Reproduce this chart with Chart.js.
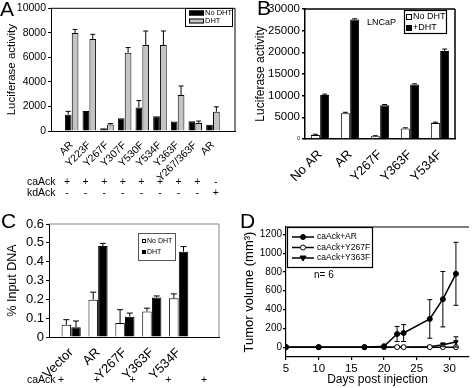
<!DOCTYPE html>
<html>
<head>
<meta charset="utf-8">
<script src="https://cdn.jsdelivr.net/npm/chart.js@4.4.0/dist/chart.umd.min.js"></script>
<style>
  html, body { margin: 0; padding: 0; background: #fff; }
  #wrap { position: relative; width: 474px; height: 388px; overflow: hidden; }
  canvas { position: absolute; }
</style>
</head>
<body>
<div id="wrap">
  <canvas id="cA" width="237" height="200" style="left:0;top:0"></canvas>
  <canvas id="cB" width="237" height="200" style="left:237px;top:0"></canvas>
  <canvas id="cC" width="237" height="188" style="left:0;top:200px"></canvas>
  <canvas id="cD" width="237" height="188" style="left:237px;top:200px"></canvas>
</div>
<script>
// ─── data ───────────────────────────────────────────────────────────────────
// A: luciferase activity with caAck / kdAck
const catA = ['AR','Y223F','Y267F','Y307F','Y530F','Y534F','Y363F','Y267/363F','AR'];
const noDhtA = [1330,1620,230,1040,1920,1200,770,800,500];
const noDhtErrA = [270,0,0,0,560,0,0,0,0];
const dhtA = [7980,7500,520,6380,7000,7000,2930,660,1570];
const dhtErrA = [300,380,90,420,1150,1150,740,150,400];
const caAckA = ['+','+','+','+','+','+','+','+','-'];
const kdAckA = ['-','-','-','-','-','-','-','-','+'];
const yTicksA = [0,2000,4000,6000,8000,10000];

// B: LNCaP luciferase
const catB = ['No AR','AR','Y267F','Y363F','Y534F'];
const noDhtB = [950,5960,660,2430,3680];
const noDhtErrB = [150,200,100,150,200];
const dhtB = [10150,27570,7800,12570,20290];
const dhtErrB = [200,150,150,150,450];
const yTicksB = [0,5000,10000,15000,20000,25000,30000];

// C: ChIP, % input DNA
const catC = ['Vector','AR','Y267F','Y363F','Y534F'];
const noDhtC = [0.065,0.198,0.074,0.136,0.206];
const noDhtErrC = [0.027,0.04,0.071,0.017,0.023];
const dhtC = [0.052,0.483,0.108,0.21,0.453];
const dhtErrC = [0.033,0.014,0.019,0.008,0.027];
const caAckC = ['+','+','+','+','+'];
const yTicksC = [0,0.1,0.2,0.3,0.4,0.5,0.6];

// D: tumor volume over time
const daysD = [5,10,17,20,22,23,27,29,31];
const arD = [0,0,0,10,140,150,300,510,780];
const arErrD = [0,0,0,0,80,90,205,295,335];
const y267fD = [0,0,0,0,0,0,0,0,0];
const y363fD = [0,0,0,0,0,0,5,25,55];
const y363fErrD = [0,0,0,0,0,0,0,20,55];
const xTicksD = [5,10,15,20,25,30];
const yTicksD = [0,200,400,600,800,1000,1200];

// ─── shared setup ───────────────────────────────────────────────────────────
const FONT = "'Liberation Sans', Arial, Helvetica, sans-serif";
Chart.defaults.font.family = FONT;
Chart.defaults.color = '#000';
Chart.defaults.animation = false;

const f = (px) => px + 'px ' + FONT;

// top/right lines of the boxed plot area
function framePlugin(sides, color, width) {
  return {
    id: 'frame',
    afterDraw(chart) {
      const { left, top, right, bottom } = chart.chartArea;
      const ctx = chart.ctx;
      ctx.save();
      ctx.strokeStyle = color; ctx.lineWidth = width;
      ctx.beginPath();
      if (sides.includes('t')) { ctx.moveTo(left, top); ctx.lineTo(right, top); }
      if (sides.includes('r')) { ctx.moveTo(right, top); ctx.lineTo(right, bottom); }
      ctx.stroke();
      ctx.restore();
    }
  };
}

// error bars, from dataset.errors through the y scale
function errorPlugin(cap) {
  return {
    id: 'errorBars',
    afterDatasetsDraw(chart) {
      const ctx = chart.ctx, ys = chart.scales.y;
      ctx.save();
      ctx.strokeStyle = '#000'; ctx.lineWidth = 1;
      chart.data.datasets.forEach((ds, di) => {
        if (!ds.errors) return;
        chart.getDatasetMeta(di).data.forEach((el, i) => {
          const e = ds.errors[i];
          if (!e) return;
          const v = ds.data[i].y;
          const yTop = ys.getPixelForValue(v + e);
          const yBot = ys.getPixelForValue(ds.errBoth ? v - e : v);
          ctx.beginPath();
          ctx.moveTo(el.x, yBot); ctx.lineTo(el.x, yTop);
          ctx.moveTo(el.x - cap, yTop); ctx.lineTo(el.x + cap, yTop);
          if (ds.errBoth) { ctx.moveTo(el.x - cap, yBot); ctx.lineTo(el.x + cap, yBot); }
          ctx.stroke();
        });
      });
      ctx.restore();
    }
  };
}

function drawMarker(ctx, ds, x, y) {
  const r = ds.pointRadius;
  ctx.beginPath();
  if (ds.pointStyle === 'triangle') {
    ctx.moveTo(x - r * 1.2, y - r * 0.8);
    ctx.lineTo(x + r * 1.2, y - r * 0.8);
    ctx.lineTo(x, y + r * 1.2);
    ctx.closePath();
  } else {
    ctx.arc(x, y, r, 0, Math.PI * 2);
  }
  ctx.fillStyle = ds.pointBackgroundColor; ctx.fill();
  ctx.strokeStyle = ds.pointBorderColor; ctx.lineWidth = 1; ctx.stroke();
}

// boxed legend drawn inside the plot
function legendPlugin(o) {
  return {
    id: 'boxLegend',
    afterDraw(chart) {
      const ctx = chart.ctx;
      ctx.save();
      ctx.strokeStyle = o.boxColor; ctx.lineWidth = o.boxWidth;
      ctx.strokeRect(o.box[0] + 0.5, o.box[1] + 0.5, o.box[2], o.box[3]);
      ctx.font = o.font; ctx.textBaseline = 'middle'; ctx.textAlign = 'left';
      chart.data.datasets.forEach((ds, i) => {
        const y = o.y0 + i * o.dy;
        if (o.kind === 'line') {
          ctx.strokeStyle = ds.borderColor; ctx.lineWidth = ds.borderWidth;
          ctx.beginPath(); ctx.moveTo(o.sx, y); ctx.lineTo(o.sx + o.sw, y); ctx.stroke();
          drawMarker(ctx, ds, o.sx + o.sw / 2, y);
        } else {
          ctx.fillStyle = ds.backgroundColor;
          ctx.fillRect(o.sx, y - o.sh / 2, o.sw, o.sh);
          ctx.strokeStyle = '#000'; ctx.lineWidth = 1;
          ctx.strokeRect(o.sx + 0.5, y - o.sh / 2 + 0.5, o.sw - 1, o.sh - 1);
        }
        ctx.fillStyle = '#000';
        ctx.fillText(ds.label, o.tx, y);
      });
      ctx.restore();
    }
  };
}

// free text: panel letters, notes, +/- rows
function notesPlugin(items) {
  return {
    id: 'notes',
    afterDraw(chart) {
      const ctx = chart.ctx;
      ctx.save();
      ctx.fillStyle = '#000';
      items.forEach(t => {
        ctx.font = t.font;
        ctx.textAlign = t.align || 'left';
        ctx.textBaseline = t.base || 'alphabetic';
        ctx.fillText(t.text, t.x, t.y);
      });
      ctx.restore();
    }
  };
}

function signRows(labelX, x0, dx, rows, px) {
  const items = [];
  rows.forEach(r => {
    items.push({ text: r.label, x: labelX, y: r.y, font: f(px), base: 'middle' });
    r.signs.forEach((s, i) => items.push({ text: s, x: x0 + i * dx, y: r.y, font: f(px), align: 'center', base: 'middle' }));
  });
  return items;
}

// grouped bar panel on a linear index axis so the plot box can be uneven
function barPanel(id, c) {
  return new Chart(document.getElementById(id), {
    type: 'bar',
    data: {
      datasets: c.series.map(s => ({
        label: s.label,
        data: s.values.map((v, i) => ({ x: i, y: v })),
        errors: s.errors,
        backgroundColor: s.fill,
        borderColor: '#000',
        borderWidth: 1,
        categoryPercentage: c.catPct,
        barPercentage: c.barPct
      }))
    },
    options: {
      responsive: false,
      devicePixelRatio: 1,
      animation: false,
      layout: { padding: c.pad },
      scales: {
        x: {
          type: 'linear', offset: false, min: c.xMin, max: c.xMax,
          afterBuildTicks: s => { s.ticks = c.cats.map((_, i) => ({ value: i })); },
          afterFit: s => { s.height = c.xH; },
          ticks: {
            autoSkip: false, minRotation: 45, maxRotation: 45, padding: 0,
            font: { size: c.xFont }, color: '#000',
            callback: v => c.cats[v] ?? ''
          },
          grid: { display: false },
          border: { color: '#000', width: c.axisW }
        },
        y: {
          min: 0, max: c.yMax,
          afterBuildTicks: s => { s.ticks = c.yTicks.map(v => ({ value: v })); },
          afterFit: s => { s.width = c.yW; },
          ticks: { font: c.yFont, color: '#000', padding: 2, callback: v => String(v) },
          grid: { drawOnChartArea: false, tickLength: 3, color: '#000', lineWidth: c.axisW },
          border: { color: '#000', width: c.axisW },
          title: { display: true, text: c.yTitle, color: '#000', font: { size: c.yTitleSize }, padding: { top: c.yTitlePad, bottom: 0 } }
        }
      },
      plugins: { legend: { display: false }, tooltip: { enabled: false } }
    },
    plugins: [framePlugin('tr', c.frameColor, c.axisW), errorPlugin(c.cap), legendPlugin(c.legend), notesPlugin(c.notes)]
  });
}

// ─── A ──────────────────────────────────────────────────────────────────────
barPanel('cA', {
  cats: catA,
  series: [
    { label: 'No DHT', values: noDhtA, errors: noDhtErrA, fill: '#000' },
    { label: 'DHT', values: dhtA, errors: dhtErrA, fill: '#c4c4c4' }
  ],
  xMin: -1.17, xMax: 9.25, catPct: 0.78, barPct: 0.97,
  yMax: 10000, yTicks: yTicksA, yW: 51, xH: 69, pad: { left: 0, top: 5, right: 2, bottom: 0 },
  xFont: 10.5, yFont: { size: 10.5 }, axisW: 1, frameColor: '#000', cap: 2.5,
  yTitle: 'Luciferase activity', yTitleSize: 11.5, yTitlePad: 5,
  legend: { box: [185, 8, 47, 18], boxColor: '#000', boxWidth: 1, font: f(7.5), kind: 'bar',
            y0: 13, dy: 8, sx: 189, sw: 15, sh: 5, tx: 205 },
  notes: [{ text: 'A', x: 0, y: 16, font: f(21) }]
    .concat(signRows(27, 67, 18.6, [{ label: 'caAck', y: 182, signs: caAckA }, { label: 'kdAck', y: 193, signs: kdAckA }], 10.5))
});

// ─── B ──────────────────────────────────────────────────────────────────────
barPanel('cB', {
  cats: catB,
  series: [
    { label: 'No DHT', values: noDhtB, errors: noDhtErrB, fill: '#fff' },
    { label: '+DHT', values: dhtB, errors: dhtErrB, fill: '#000' }
  ],
  xMin: -0.5, xMax: 4.5, catPct: 0.62, barPct: 0.97,
  yMax: 30000, yTicks: yTicksB, yW: 68, xH: 61, pad: { left: 0, top: 4, right: 19, bottom: 0 },
  xFont: 13, yFont: c => ({ size: c.tick && c.tick.value === 0 ? 5 : 11.5 }), axisW: 1.5, frameColor: '#000', cap: 2.5,
  yTitle: 'Luciferase activity', yTitleSize: 12, yTitlePad: 16,
  legend: { box: [167, 10, 42, 23], boxColor: '#000', boxWidth: 1.2, font: f(9), kind: 'bar',
            y0: 17, dy: 11, sx: 169, sw: 6, sh: 6, tx: 176 },
  notes: [{ text: 'B', x: 20, y: 15, font: f(21) },
          { text: 'LNCaP', x: 130, y: 23, font: f(9), base: 'middle' }]
});

// ─── C ──────────────────────────────────────────────────────────────────────
barPanel('cC', {
  cats: catC,
  series: [
    { label: 'No DHT', values: noDhtC, errors: noDhtErrC, fill: '#fff' },
    { label: 'DHT', values: dhtC, errors: dhtErrC, fill: '#000' }
  ],
  xMin: -0.825, xMax: 5.5, catPct: 0.72, barPct: 0.98,
  yMax: 0.6, yTicks: yTicksC, yW: 49, xH: 51, pad: { left: 0, top: 24, right: 18, bottom: 0 },
  xFont: 13, yFont: { size: 13 }, axisW: 1, frameColor: '#888', cap: 3,
  yTitle: '% Input DNA', yTitleSize: 12.5, yTitlePad: 5.5,
  legend: { box: [138, 33, 37, 27], boxColor: '#555', boxWidth: 1, font: f(7), kind: 'bar',
            y0: 41, dy: 11, sx: 142, sw: 4, sh: 4, tx: 147 },
  notes: [{ text: 'C', x: 1, y: 28, font: f(21) }]
    .concat(signRows(27, 61, 35.75, [{ label: 'caAck', y: 180, signs: caAckC }], 10.5))
});

// ─── D ──────────────────────────────────────────────────────────────────────
const lineSet = (label, vals, errs, style, fill) => ({
  label,
  data: daysD.map((d, i) => ({ x: d, y: vals[i] })),
  errors: errs, errBoth: true,
  borderColor: '#000', borderWidth: 1.5, tension: 0,
  pointStyle: style, pointRotation: style === 'triangle' ? 180 : 0,
  pointRadius: 2.5, pointBorderWidth: 1,
  pointBackgroundColor: fill, pointBorderColor: '#000'
});

new Chart(document.getElementById('cD'), {
  type: 'line',
  data: {
    datasets: [
      lineSet('caAck+AR', arD, arErrD, 'circle', '#000'),
      lineSet('caAck+Y267F', y267fD, null, 'circle', '#fff'),
      lineSet('caAck+Y363F', y363fD, y363fErrD, 'triangle', '#000')
    ]
  },
  options: {
    responsive: false,
    devicePixelRatio: 1,
    animation: false,
    layout: { padding: { left: 0, top: 27, right: 0, bottom: 0 } },
    scales: {
      x: {
        type: 'linear', min: 5, max: 33,
        afterBuildTicks: s => { s.ticks = xTicksD.map(v => ({ value: v })); },
        afterFit: s => { s.height = 31; },
        ticks: { font: { size: 11.5 }, color: '#000', padding: 2, maxRotation: 0 },
        grid: { drawOnChartArea: false, tickLength: 3, color: '#000', lineWidth: 1.2 },
        border: { color: '#000', width: 1.2 },
        title: { display: true, text: 'Days post injection', color: '#000', font: { size: 12 }, padding: { top: 0, bottom: 1 } }
      },
      y: {
        min: -105, max: 1278,
        afterBuildTicks: s => { s.ticks = yTicksD.map(v => ({ value: v })); },
        afterFit: s => { s.width = 49; },
        ticks: { font: { size: 10 }, color: '#000', padding: 1, callback: v => String(v) },
        grid: { drawOnChartArea: false, tickLength: 3, color: '#000', lineWidth: 1.2 },
        border: { color: '#000', width: 1.2 },
        title: { display: true, text: 'Tumor volume (mm³)', color: '#000', font: { size: 13 }, padding: { top: 5, bottom: 0 } }
      }
    },
    plugins: { legend: { display: false }, tooltip: { enabled: false } }
  },
  plugins: [
    framePlugin('t', '#000', 1.2),
    errorPlugin(2.5),
    legendPlugin({ box: [50, 27, 85, 40], boxColor: '#000', boxWidth: 1.2, font: f(8.5), kind: 'line',
                   y0: 37, dy: 10.5, sx: 55, sw: 22, tx: 80 }),
    notesPlugin([{ text: 'D', x: 3, y: 28, font: f(21) },
                 { text: 'n= 6', x: 77, y: 75, font: f(10), base: 'middle' }])
  ]
});
</script>
</body>
</html>
